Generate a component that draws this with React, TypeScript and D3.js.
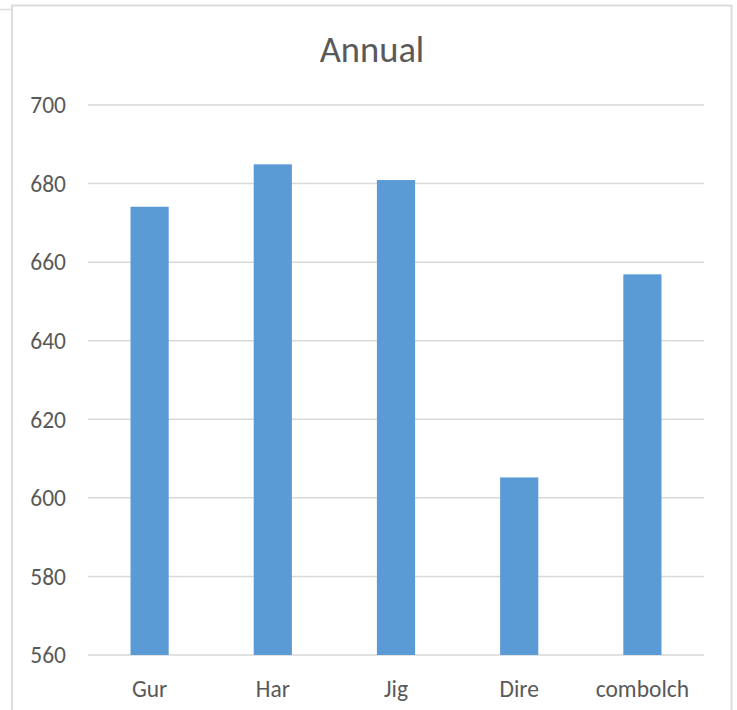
import React from "react";
import * as d3 from "d3";

const categories = ["Gur", "Har", "Jig", "Dire", "combolch"];
const values = [674.1, 684.9, 680.9, 605.2, 656.9];
const yTicks = [560, 580, 600, 620, 640, 660, 680, 700];
const title = "Annual";

export default function App() {
  const W = 737, H = 710;
  const left = 88, right = 704, top = 105, bottom = 655;
  const x = d3.scaleBand<string>().domain(categories).range([left, right]).paddingInner(0.69).paddingOuter(0.345);
  const y = d3.scaleLinear().domain([560, 700]).range([bottom, top]);
  const font = "Carlito, Calibri, 'Open Sans', 'Noto Sans', sans-serif";
  return (
    <svg width={W} height={H} style={{ position: "absolute", left: 0, top: 0, background: "#fff" }}>
      <rect x={0} y={0} width={W} height={H} fill="#fff" />
      <line x1={0} x2={12} y1={9.5} y2={9.5} stroke="#dcdcdc" strokeWidth={1.5} />
      <rect x={12} y={5.5} width={719.5} height={H} fill="none" stroke="#d9d9d9" strokeWidth={1.8} />
      <text x={372} y={62} textAnchor="middle" fontFamily={font} fontSize={36.5} fill="#595959">{title}</text>
      {yTicks.map(t => (
        <g key={t}>
          <line x1={left} x2={right} y1={y(t)} y2={y(t)} stroke="#d9d9d9" strokeWidth={1.5} />
          <text x={66} y={y(t)} dy="0.35em" textAnchor="end" fontFamily={font} fontSize={23.5} fill="#595959">{t}</text>
        </g>
      ))}
      {categories.map((c, i) => (
        <g key={c}>
          <rect x={x(c)!} y={y(values[i])} width={x.bandwidth()} height={y(560) - y(values[i])} fill="#5b9bd5" />
          <text x={x(c)! + x.bandwidth() / 2} y={697} textAnchor="middle" fontFamily={font} fontSize={23.5} fill="#595959">{c}</text>
        </g>
      ))}
    </svg>
  );
}
